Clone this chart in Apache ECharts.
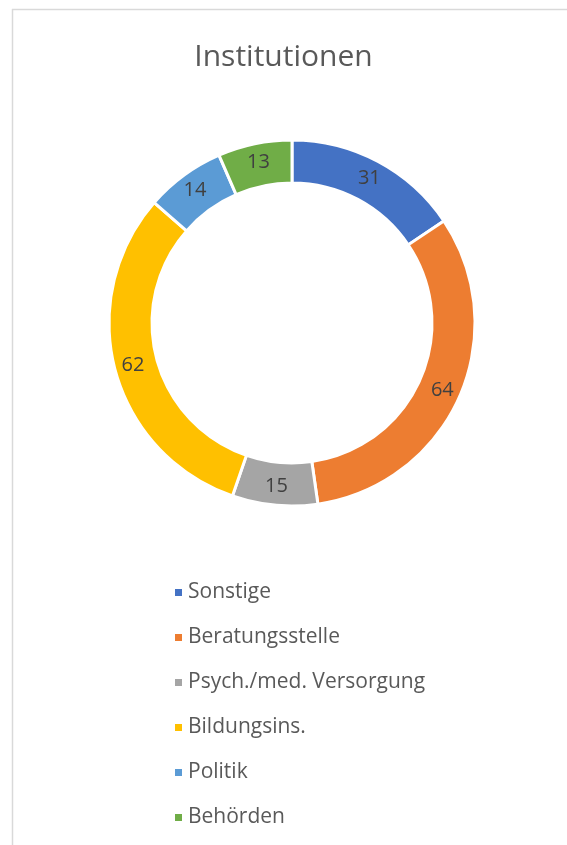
<!DOCTYPE html>
<html><head><meta charset="utf-8">
<script src="https://cdn.jsdelivr.net/npm/echarts@6/dist/echarts.min.js"></script>
<style>html,body{margin:0;padding:0;background:#fff}#c{width:567px;height:845px}</style>
</head><body><div id="c"></div>
<script>
const categories = ['Sonstige','Beratungsstelle','Psych./med. Versorgung','Bildungsins.','Politik','Behörden'];
const values = [31,64,15,62,14,13];
const colors = ['#4472C4','#ED7D31','#A5A5A5','#FFC000','#5B9BD5','#70AD47'];
const titleText = 'Institutionen';

const chart = echarts.init(document.getElementById('c'));
chart.setOption({
  animation:false,
  title:{text:titleText,left:'center',top:37,textStyle:{fontFamily:'Open Sans',fontSize:30,fontWeight:'normal',color:'#595959'}},
  graphic:[
    {type:'line',shape:{x1:12.5,y1:9,x2:12.5,y2:845},style:{stroke:'#d9d9d9',lineWidth:1.5}},
    {type:'line',shape:{x1:12,y1:9.5,x2:567,y2:9.5},style:{stroke:'#d9d9d9',lineWidth:1.5}}
  ],
  legend:{orient:'vertical',left:168,top:577,itemWidth:9,itemHeight:9,itemGap:24,icon:'rect',
    textStyle:{fontFamily:'Open Sans',fontSize:21,color:'#595959'},
    data:categories},
  series:[{type:'pie',center:[292,323],radius:[140,183],startAngle:90,clockwise:true,
    itemStyle:{borderColor:'#fff',borderWidth:3},
    label:{show:true,position:'inside',fontFamily:'Open Sans',fontSize:20,color:'#404040',formatter:'{c}'},
    labelLine:{show:false},
    data:categories.map((n,i)=>({name:n,value:values[i],itemStyle:{color:colors[i]}}))}]
});
</script></body></html>
